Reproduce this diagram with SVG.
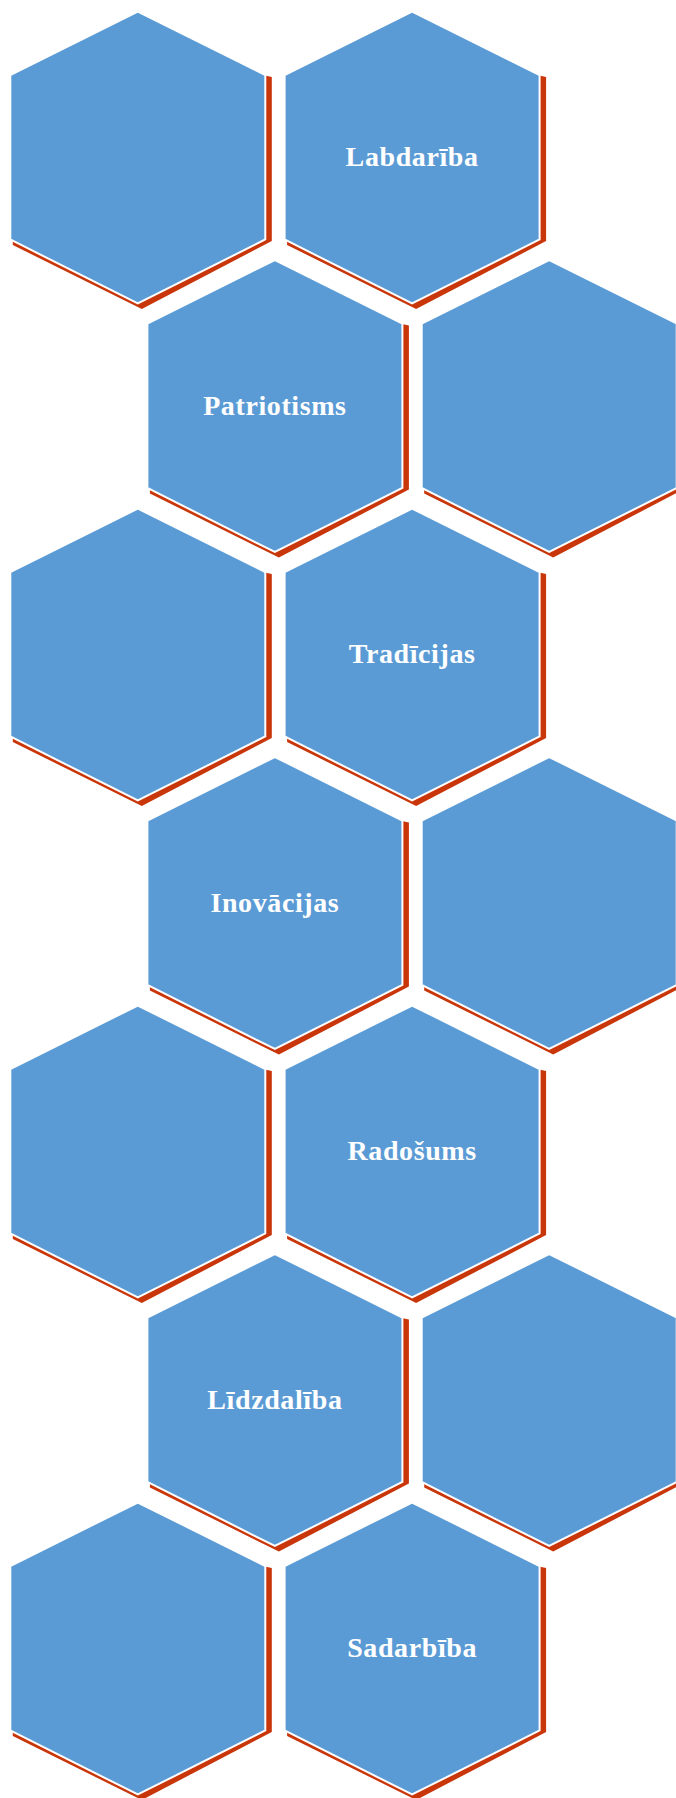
<svg xmlns="http://www.w3.org/2000/svg" width="676" height="1798" viewBox="0 0 676 1798">
<style>
.sh{fill:#C8360A}
.hx{fill:#5B9BD5;stroke:#FFFFFF;stroke-width:2}
.lb{fill:#FFFFFF;font-family:"Liberation Serif","Times New Roman",serif;font-weight:bold;font-size:28px;letter-spacing:0.6px;text-anchor:middle}
</style>
<defs>
<polygon id="hex" points="0,0 127.5,63.5 127.5,228 0,292 -127.5,228 -127.5,63.5"/>
<polygon id="shd" points="0,10 127,64 134,65.5 134,229.5 4,297.5 -125,233.5 -125,66"/>
</defs>
<rect width="676" height="1798" fill="#FFFFFF"/>
<g id="n1" transform="translate(137.8,11.5)"><use href="#shd" class="sh"/><use href="#hex" class="hx"/></g>
<g id="n2" transform="translate(412.1,11.5)"><use href="#shd" class="sh"/><use href="#hex" class="hx"/><text class="lb" x="0" y="154.5">Labdarība</text></g>
<g id="n3" transform="translate(274.9,260)"><use href="#shd" class="sh"/><use href="#hex" class="hx"/><text class="lb" x="0" y="154.5">Patriotisms</text></g>
<g id="n4" transform="translate(549.2,260)"><use href="#shd" class="sh"/><use href="#hex" class="hx"/></g>
<g id="n5" transform="translate(137.8,508.5)"><use href="#shd" class="sh"/><use href="#hex" class="hx"/></g>
<g id="n6" transform="translate(412.1,508.5)"><use href="#shd" class="sh"/><use href="#hex" class="hx"/><text class="lb" x="0" y="154.5">Tradīcijas</text></g>
<g id="n7" transform="translate(274.9,757)"><use href="#shd" class="sh"/><use href="#hex" class="hx"/><text class="lb" x="0" y="154.5">Inovācijas</text></g>
<g id="n8" transform="translate(549.2,757)"><use href="#shd" class="sh"/><use href="#hex" class="hx"/></g>
<g id="n9" transform="translate(137.8,1005.5)"><use href="#shd" class="sh"/><use href="#hex" class="hx"/></g>
<g id="n10" transform="translate(412.1,1005.5)"><use href="#shd" class="sh"/><use href="#hex" class="hx"/><text class="lb" x="0" y="154.5">Radošums</text></g>
<g id="n11" transform="translate(274.9,1254)"><use href="#shd" class="sh"/><use href="#hex" class="hx"/><text class="lb" x="0" y="154.5">Līdzdalība</text></g>
<g id="n12" transform="translate(549.2,1254)"><use href="#shd" class="sh"/><use href="#hex" class="hx"/></g>
<g id="n13" transform="translate(137.8,1502.5)"><use href="#shd" class="sh"/><use href="#hex" class="hx"/></g>
<g id="n14" transform="translate(412.1,1502.5)"><use href="#shd" class="sh"/><use href="#hex" class="hx"/><text class="lb" x="0" y="154.5">Sadarbība</text></g>
<g id="connectors"/>
</svg>
